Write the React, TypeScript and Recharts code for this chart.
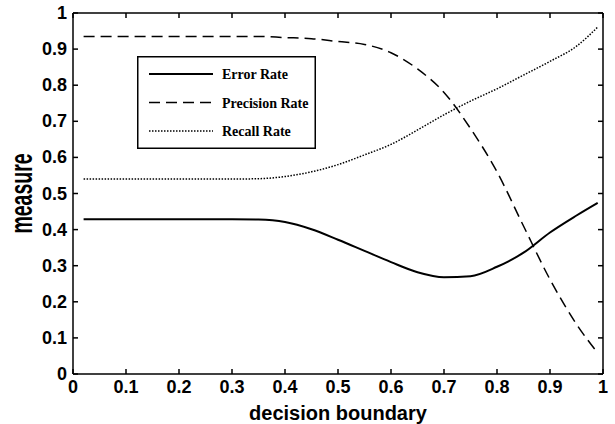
import { LineChart, Line, XAxis, YAxis } from "recharts"

// decision boundary sample positions and the three measured rates
const boundary = [0.02, 0.1, 0.2, 0.3, 0.35, 0.4, 0.45, 0.5, 0.55, 0.6, 0.65, 0.7, 0.75, 0.8, 0.85, 0.9, 0.95, 0.99]
const errorRate = [0.429, 0.429, 0.429, 0.429, 0.428, 0.421, 0.401, 0.372, 0.341, 0.31, 0.282, 0.268, 0.271, 0.297, 0.336, 0.392, 0.439, 0.474]
const precisionRate = [0.935, 0.935, 0.935, 0.935, 0.935, 0.932, 0.929, 0.921, 0.913, 0.89, 0.845, 0.78, 0.68, 0.56, 0.41, 0.262, 0.138, 0.058]
const recallRate = [0.54, 0.54, 0.54, 0.54, 0.541, 0.547, 0.56, 0.58, 0.607, 0.636, 0.676, 0.718, 0.756, 0.79, 0.828, 0.866, 0.908, 0.961]

const axisTicks = [0, 0.1, 0.2, 0.3, 0.4, 0.5, 0.6, 0.7, 0.8, 0.9, 1]

const legendItems = [
  { name: "Error Rate", dash: undefined, width: 2 },
  { name: "Precision Rate", dash: "11 6", width: 1.5 },
  { name: "Recall Rate", dash: "1.5 1.5", width: 1.5 },
]

const data = boundary.map((b, i) => ({
  boundary: b,
  error: errorRate[i],
  precision: precisionRate[i],
  recall: recallRate[i],
}))

// page layout of the plot box
const W = 615
const H = 424
const PLOT_LEFT = 73
const PLOT_TOP = 13
const PLOT_RIGHT = 603
const PLOT_BOTTOM = 374
const LEGEND_X = 137
const LEGEND_Y = 56

const tickFont = { fontFamily: "'Liberation Sans Narrow', 'Liberation Sans', Arial", fontWeight: "bold", fontSize: 18, fill: "#000" }
const titleFont = { fontFamily: "'Liberation Sans', Arial", fontWeight: "bold", fontSize: 20 }
const fmt = (v: number) => String(+v.toFixed(1))
const TICK_LEN = 5

// matlab-style ticks: short marks pointing into the plot box
const BottomTick = ({ x, y, payload }: any) => (
  <g>
    <line x1={x} x2={x} y1={y} y2={y - TICK_LEN} stroke="#000" strokeWidth={1.5} />
    <text x={x} y={y + 19} textAnchor="middle" {...tickFont}>
      {fmt(payload.value)}
    </text>
  </g>
)

const LeftTick = ({ x, y, payload }: any) => (
  <g>
    <line x1={x} x2={x + TICK_LEN} y1={y} y2={y} stroke="#000" strokeWidth={1.5} />
    <text x={x - 6} y={y + 6} textAnchor="end" {...tickFont}>
      {fmt(payload.value)}
    </text>
  </g>
)

// top and right edges of the box plus the legend, laid over the chart
const Overlay = () => {
  const spanX = PLOT_RIGHT - PLOT_LEFT
  const spanY = PLOT_BOTTOM - PLOT_TOP
  return (
    <svg width={W} height={H} style={{ position: "absolute", left: 0, top: 0, pointerEvents: "none" }}>
      <line x1={PLOT_LEFT} x2={PLOT_RIGHT} y1={PLOT_TOP} y2={PLOT_TOP} stroke="#000" strokeWidth={1.5} />
      <line x1={PLOT_RIGHT} x2={PLOT_RIGHT} y1={PLOT_TOP} y2={PLOT_BOTTOM} stroke="#000" strokeWidth={1.5} />
      {axisTicks.map((t) => (
        <g key={t}>
          <line
            x1={PLOT_LEFT + t * spanX}
            x2={PLOT_LEFT + t * spanX}
            y1={PLOT_TOP}
            y2={PLOT_TOP + TICK_LEN}
            stroke="#000"
            strokeWidth={1.5}
          />
          <line
            x1={PLOT_RIGHT}
            x2={PLOT_RIGHT - TICK_LEN}
            y1={PLOT_BOTTOM - t * spanY}
            y2={PLOT_BOTTOM - t * spanY}
            stroke="#000"
            strokeWidth={1.5}
          />
        </g>
      ))}
      <g transform={`translate(${LEGEND_X},${LEGEND_Y})`}>
        <rect x={0.75} y={0.75} width={177.5} height={91.5} fill="#fff" stroke="#000" strokeWidth={1.5} />
        {legendItems.map((item, i) => {
          const y = 18 + i * 28.5
          return (
            <g key={item.name}>
              <line x1={12} x2={76} y1={y} y2={y} stroke="#000" strokeWidth={item.width} strokeDasharray={item.dash} />
              <text x={85} y={y + 5} fontFamily="'Liberation Serif', 'Times New Roman', serif" fontWeight="bold" fontSize={14}>
                {item.name}
              </text>
            </g>
          )
        })}
      </g>
    </svg>
  )
}

export default function App() {
  return (
    <div style={{ position: "absolute", left: 0, top: 0, width: W, height: H }}>
      <LineChart
        width={W}
        height={H}
        data={data}
        margin={{ top: PLOT_TOP, right: W - PLOT_RIGHT, bottom: 0, left: 0 }}
      >
        <XAxis
          dataKey="boundary"
          type="number"
          domain={[0, 1]}
          ticks={axisTicks}
          interval={0}
          height={H - PLOT_BOTTOM}
          tickSize={0}
          tickMargin={0}
          tickLine={false}
          stroke="#000"
          strokeWidth={1.5}
          tick={<BottomTick />}
          label={({ viewBox }: any) => (
            <text x={viewBox.x + viewBox.width / 2} y={viewBox.y + 46} textAnchor="middle" {...titleFont}>
              decision boundary
            </text>
          )}
        />
        <YAxis
          type="number"
          domain={[0, 1]}
          ticks={axisTicks}
          interval={0}
          width={PLOT_LEFT}
          tickSize={0}
          tickMargin={0}
          tickLine={false}
          stroke="#000"
          strokeWidth={1.5}
          tick={<LeftTick />}
          label={({ viewBox }: any) => (
            <text
              transform={`translate(${viewBox.x + 32},${viewBox.y + viewBox.height / 2}) rotate(-90) scale(1,1.6)`}
              textAnchor="middle"
              {...titleFont}
              fontSize={19.5}
            >
              measure
            </text>
          )}
        />
        <Line
          dataKey="error"
          type="monotone"
          stroke="#000"
          strokeWidth={2}
          dot={false}
          isAnimationActive={false}
        />
        <Line
          dataKey="precision"
          type="monotone"
          stroke="#000"
          strokeWidth={1.5}
          strokeDasharray="11 6"
          dot={false}
          isAnimationActive={false}
        />
        <Line
          dataKey="recall"
          type="monotone"
          stroke="#000"
          strokeWidth={1.5}
          strokeDasharray="1.5 1.5"
          dot={false}
          isAnimationActive={false}
        />
      </LineChart>
      <Overlay />
    </div>
  )
}
